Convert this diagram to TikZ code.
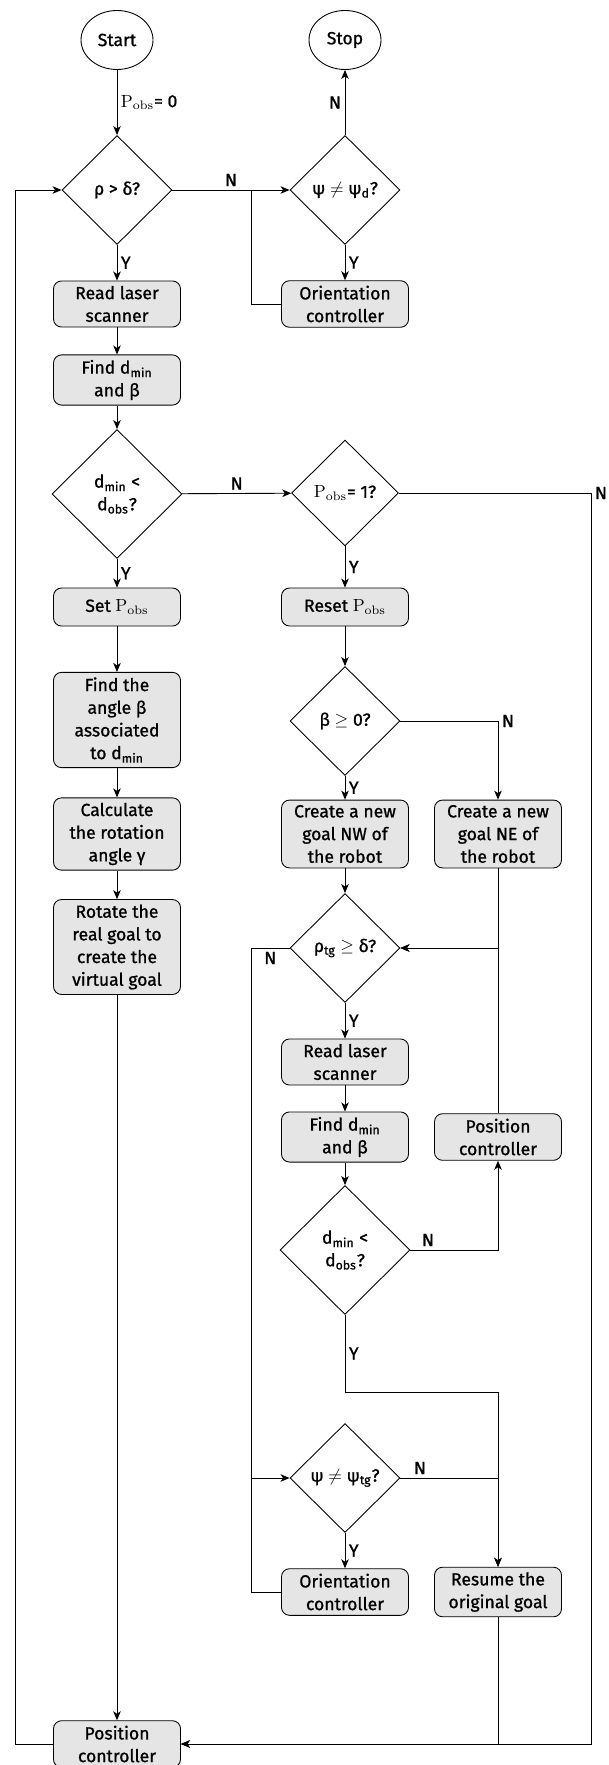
\documentclass[tikz,border=0pt]{standalone}
\usepackage[no-math]{fontspec}
\setmainfont{Fira Sans}[FakeBold=1]
\usetikzlibrary{shapes.geometric,arrows.meta}
\definecolor{boxfill}{gray}{0.9}

\begin{document}
\begin{tikzpicture}[x=0.2mm,y=-0.2mm,font=\fontsize{10}{12.9}\selectfont,
    line width=0.5pt,>={Stealth[length=1.8mm,width=1.5mm,inset=0.5mm]},
    term/.style={draw,ellipse,minimum width=14.4mm,minimum height=11.8mm,
      inner sep=0pt},
    proc/.style={draw,rounded corners=1.6mm,fill=boxfill,minimum width=25.4mm,
      minimum height=7.6mm,inner sep=1mm,align=center},
    test/.style={draw,diamond,aspect=1,minimum width=22mm,minimum height=21.8mm,
      inner sep=0pt,align=center},
    bigtest/.style={test,minimum width=26mm,minimum height=25.8mm},
    lbl/.style={inner sep=2pt}]
  \useasboundingbox (0,0) rectangle (608,1765);

  \node[term] (start) at (117,40) {Start};
  \node[term] (stop) at (345,40) {Stop};
  \node[test] (rho) at (117,190) {ρ > δ?};
  \node[test] (psi) at (345,190) {ψ $\neq$ ψ\textsubscript{d}?};
  \node[proc] (read) at (117,304) {Read laser\\scanner};
  \node[proc] (orient) at (345,304) {Orientation\\controller};
  \node[proc] (find) at (117,380) {Find d\textsubscript{min}\\and β};
  \node[bigtest] (dmin) at (117,494) {d\textsubscript{min} <\\d\textsubscript{obs}?};
  \node[test,minimum width=21.4mm,minimum height=21.2mm] (pobs) at (345,493)
    {$\mathrm{P}_{\mathrm{obs}}$= 1?};
  \node[proc] (setp) at (117,607) {Set $\mathrm{P}_{\mathrm{obs}}$};
  \node[proc] (resetp) at (345,607) {Reset $\mathrm{P}_{\mathrm{obs}}$};

  \node[proc] (angle) at (117,720) {Find the\\angle β\\associated\\to d\textsubscript{min}};
  \node[test] (beta) at (345,721) {β $\geq$ 0?};
  \node[proc] (calc) at (117,834) {Calculate\\the rotation\\angle γ};
  \node[proc] (nw) at (345,834) {Create a new\\goal NW of\\the robot};
  \node[proc] (ne) at (498,834) {Create a new\\goal NE of\\the robot};
  \node[proc] (rotate) at (117,947) {Rotate the\\real goal to\\create the\\virtual goal};
  \node[test] (rhotg) at (345,948) {ρ\textsubscript{tg} $\geq$ δ?};

  \node[proc] (readb) at (345,1062) {Read laser\\scanner};
  \node[proc] (findb) at (345,1137) {Find d\textsubscript{min}\\and β};
  \node[proc] (posb) at (498,1137) {Position\\controller};
  \node[bigtest] (dminb) at (345,1250) {d\textsubscript{min} <\\d\textsubscript{obs}?};
  \node[test] (psitg) at (345,1478) {ψ $\neq$ ψ\textsubscript{tg}?};
  \node[proc] (orientb) at (345,1592) {Orientation\\controller};
  \node[proc] (resume) at (498,1592) {Resume the\\original goal};
  \node[proc] (pos) at (117,1744) {Position\\controller};

  \coordinate (loopl) at (15,0);
  \coordinate (loopr) at (591,0);
  \coordinate (junc) at (251,0);
  \coordinate (merge) at (498,1392);

  % main branch
  \draw[->] (start) -- node[lbl,right] {$\mathrm{P}_{\mathrm{obs}}$= 0} (rho);
  \draw[->] (rho) -- node[lbl,above] {N} (psi);
  \draw[->] (psi) -- node[lbl,left] {N} (stop);
  \draw[->] (psi) -- node[lbl,right] {Y} (orient);
  \draw (orient.west) -| (junc |- rho);
  \draw[->] (rho) -- node[lbl,right] {Y} (read);
  \draw[->] (read) -- (find);
  \draw[->] (find) -- (dmin);
  \draw[->] (dmin) -- node[lbl,above] {N} (pobs);
  \draw[->] (dmin) -- node[lbl,right] {Y} (setp);
  \draw[->] (setp) -- (angle);
  \draw[->] (angle) -- (calc);
  \draw[->] (calc) -- (rotate);
  \draw[->] (rotate) -- (pos);
  \draw[->] (pos.west) -| (loopl |- rho) -- (rho.west);

  % obstacle branch
  \draw[->] (pobs) -- node[lbl,right] {Y} (resetp);
  \draw[->] (pobs.east) -| node[lbl,right] {N} (loopr |- pos) -- (pos.east);
  \draw[->] (resetp) -- (beta);
  \draw[->] (beta) -- node[lbl,right] {Y} (nw);
  \draw[->] (beta.east) -| node[lbl,right] {N} (ne.north);
  \draw[->] (nw) -- (rhotg);
  \draw[->] (ne.south) |- (rhotg.east);
  \draw[->] (posb.north) |- (rhotg.east);
  \draw[->] (rhotg) -- node[lbl,right] {Y} (readb);
  \draw[->] (rhotg.west) -- node[lbl,below] {N} (rhotg.west -| junc) |- (psitg.west);
  \draw[->] (readb) -- (findb);
  \draw[->] (findb) -- (dminb);
  \draw[->] (dminb.east) -| node[lbl,above,pos=.1] {N} (posb.south);
  \draw[->] (dminb.south) |- node[lbl,right,pos=.25] {Y} (merge) -- (resume.north);
  \draw[->] (psitg.east) -| node[lbl,above,pos=.1] {N} (resume.north);
  \draw[->] (psitg) -- node[lbl,right] {Y} (orientb);
  \draw (orientb.west) -| (junc |- psitg);
  \draw[->] (resume.south) |- (pos.east);
\end{tikzpicture}
\end{document}
